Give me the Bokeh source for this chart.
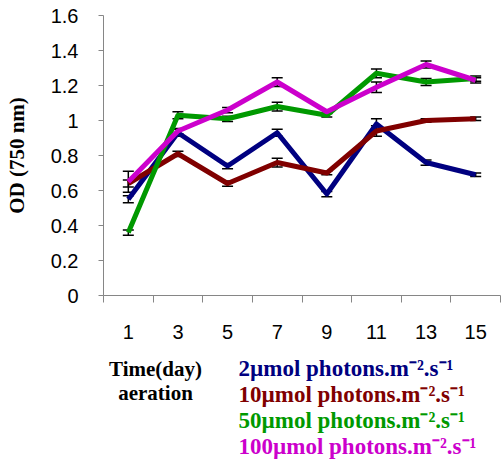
from bokeh.plotting import figure
from bokeh.layouts import column
from bokeh.models import (ColumnDataSource, Whisker, TeeHead, FixedTicker, Range1d)
from bokeh.core.properties import value
from bokeh.embed import file_html
from bokeh.resources import INLINE

# ---- data ----
days = [1, 3, 5, 7, 9, 11, 13, 15]
od_2 = [0.55, 0.93, 0.74, 0.93, 0.58, 0.98, 0.76, 0.69]
err_2 = [0.02, 0.02, 0.015, 0.02, 0.015, 0.03, 0.015, 0.01]
od_10 = [0.64, 0.81, 0.64, 0.76, 0.70, 0.94, 1.00, 1.01]
err_10 = [0.02, 0.015, 0.015, 0.025, 0.01, 0.03, 0.01, 0.01]
od_50 = [0.36, 1.03, 1.01, 1.08, 1.03, 1.27, 1.22, 1.24]
err_50 = [0.015, 0.02, 0.015, 0.025, 0.01, 0.025, 0.02, 0.015]
od_100 = [0.65, 0.94, 1.06, 1.22, 1.05, 1.19, 1.32, 1.23]
err_100 = [0.06, 0.015, 0.015, 0.025, 0.01, 0.03, 0.02, 0.015]

series_names = ["2\u00b5mol photons.m\u207b\u00b2.s\u207b\u00b9",
                "10\u00b5mol photons.m\u207b\u00b2.s\u207b\u00b9",
                "50\u00b5mol photons.m\u207b\u00b2.s\u207b\u00b9",
                "100\u00b5mol photons.m\u207b\u00b2.s\u207b\u00b9"]
series_colors = ["#000080", "#800000", "#009900", "#cc00cc"]
x_title = ["Time(day)", "aeration"]
y_title = "OD (750 nm)"
y_ticks = [0, 0.2, 0.4, 0.6, 0.8, 1.0, 1.2, 1.4, 1.6]
y_tick_labels = ["0", "0.2", "0.4", "0.6", "0.8", "1", "1.2", "1.4", "1.6"]

xs = [i + 0.5 for i in range(len(days))]

TOP_H = 350
W = 503
LEFT = 103
RIGHT = 500
p = figure(width=W, height=TOP_H, output_backend="svg", toolbar_location=None,
           x_range=Range1d(0, len(days)), y_range=Range1d(0, 1.6),
           min_border_left=LEFT, min_border_right=W - RIGHT, min_border_top=15,
           min_border_bottom=TOP_H - 295)
p.outline_line_color = None
p.grid.grid_line_color = None
p.background_fill_color = "white"
p.border_fill_color = "white"

axis_gray = "#868686"
tick_font = "Liberation Sans"

# y axis
p.yaxis.ticker = FixedTicker(ticks=y_ticks)
p.yaxis.major_label_overrides = {t: l for t, l in zip(y_ticks, y_tick_labels)}
p.yaxis.axis_line_color = axis_gray
p.yaxis.major_tick_line_color = axis_gray
p.yaxis.major_tick_out = 5
p.yaxis.major_tick_in = 0
p.yaxis.minor_tick_line_color = None
p.yaxis.major_label_text_font = tick_font
p.yaxis.major_label_text_font_size = "20px"
p.yaxis.major_label_text_color = "black"
p.yaxis.major_label_standoff = 20
p.yaxis.axis_label = y_title
p.yaxis.axis_label_text_font = "Liberation Serif"
p.yaxis.axis_label_text_font_style = "bold"
p.yaxis.axis_label_text_font_size = "21px"
p.yaxis.axis_label_text_color = "black"
p.yaxis.axis_label_standoff = 19

# x axis
p.xaxis.ticker = FixedTicker(ticks=xs, minor_ticks=list(range(len(days) + 1)))
p.xaxis.major_label_overrides = {x: str(d) for x, d in zip(xs, days)}
p.xaxis.axis_line_color = axis_gray
p.xaxis.major_tick_line_color = None
p.xaxis.major_tick_out = 0
p.xaxis.major_tick_in = 0
p.xaxis.minor_tick_line_color = axis_gray
p.xaxis.minor_tick_out = 7
p.xaxis.minor_tick_in = 0
p.xaxis.major_label_text_font = tick_font
p.xaxis.major_label_text_font_size = "20px"
p.xaxis.major_label_text_color = "black"
p.xaxis.major_label_standoff = 22

all_vals = [od_2, od_10, od_50, od_100]
all_errs = [err_2, err_10, err_50, err_100]

for vals, errs, col in zip(all_vals, all_errs, series_colors):
    src = ColumnDataSource(dict(x=xs, y=vals,
                                upper=[v + e for v, e in zip(vals, errs)],
                                lower=[v - e for v, e in zip(vals, errs)]))
    p.line("x", "y", source=src, line_color=col, line_width=5, line_join="round")
    w = Whisker(source=src, base="x", upper="upper", lower="lower",
                line_color="black", line_width=1.5,
                upper_head=TeeHead(size=11, line_color="black", line_width=1.5),
                lower_head=TeeHead(size=11, line_color="black", line_width=1.5))
    p.add_layout(w)

# ---- lower panel: x-axis title and coloured legend text (page-pixel layout) ----
BOT_H = 465 - TOP_H
q = figure(width=W, height=BOT_H, output_backend="svg", toolbar_location=None,
           x_range=Range1d(LEFT, RIGHT), y_range=Range1d(465, TOP_H),
           min_border_left=LEFT, min_border_right=W - RIGHT,
           min_border_top=0, min_border_bottom=0)
q.axis.visible = False
q.grid.grid_line_color = None
q.outline_line_color = None
q.background_fill_color = "white"
q.border_fill_color = "white"

q.text(x=[155, 155], y=[368, 392], text=x_title,
       text_font=value("Liberation Serif"), text_font_style="bold",
       text_font_size="21px", text_color="black", text_align="center",
       text_baseline="alphabetic")

q.text(x=[238] * len(series_names),
       y=[368 + 26 * i for i in range(len(series_names))],
       text=series_names, text_font=value("Liberation Serif"),
       text_font_style="bold", text_font_size="23px", text_color=series_colors,
       text_align="left", text_baseline="alphabetic")

layout = column(p, q, spacing=0)
open("out.html", "w").write(file_html(layout, INLINE))
